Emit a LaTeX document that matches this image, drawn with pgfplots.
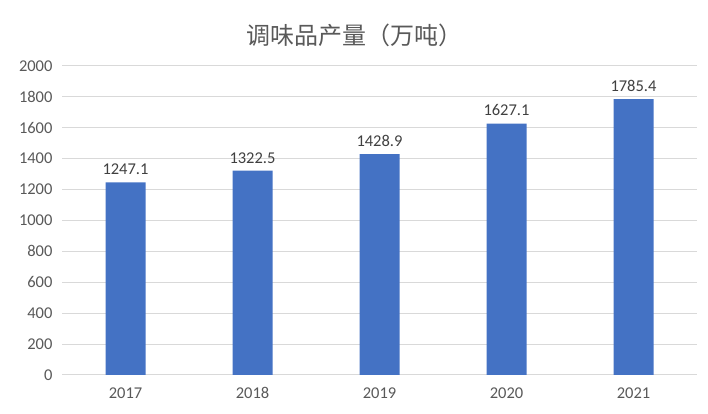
\documentclass[border=0pt]{standalone}
\usepackage{pgfplots}
\pgfplotsset{compat=1.18}
\usepackage{fontspec}
\setmainfont{Carlito}
\newfontfamily\cjk{Noto Sans CJK SC}
\definecolor{barblue}{HTML}{4472C4}
\definecolor{gridgray}{HTML}{D9D9D9}
\definecolor{txtgray}{HTML}{595959}
\definecolor{lblgray}{HTML}{404040}
\begin{document}
\begin{tikzpicture}[x=1pt,y=1pt]
\path (0,0) rectangle (708,414);
\begin{axis}[
  at={(62pt,39pt)}, anchor=south west,
  scale only axis, width=635pt, height=309pt,
  xmin=-0.5, xmax=4.5, ymin=0, ymax=2000,
  ytick={0,200,...,2000},
  xtick={0,1,2,3,4},
  xticklabels={2017,2018,2019,2020,2021},
  axis line style={draw=none},
  tick style={draw=none},
  ymajorgrids, grid style={gridgray, line width=1pt},
  ticklabel style={font=\fontsize{16.5}{19}\selectfont, text=txtgray},
  /pgf/number format/assume math mode=true,
  /pgf/number format/1000 sep={},
  yticklabel style={xshift=-6pt},
  xticklabel style={yshift=-9pt},
  nodes near coords,
  nodes near coords style={font=\fontsize{16.5}{19}\selectfont, text=lblgray, /pgf/number format/fixed, /pgf/number format/precision=1, /pgf/number format/fixed zerofill, yshift=4pt},
  clip=false,
  title={\cjk 调味品产量（万吨）},
  title style={font=\cjk\fontsize{24}{28}\selectfont, text=txtgray, at={(0.46,1)}, yshift=10pt},
]
\addplot[ybar, bar width=40pt, fill=barblue, draw=none] coordinates {
 (0,1247.1) (1,1322.5) (2,1428.9) (3,1627.1) (4,1785.4)
};
\end{axis}
\end{tikzpicture}
\end{document}
